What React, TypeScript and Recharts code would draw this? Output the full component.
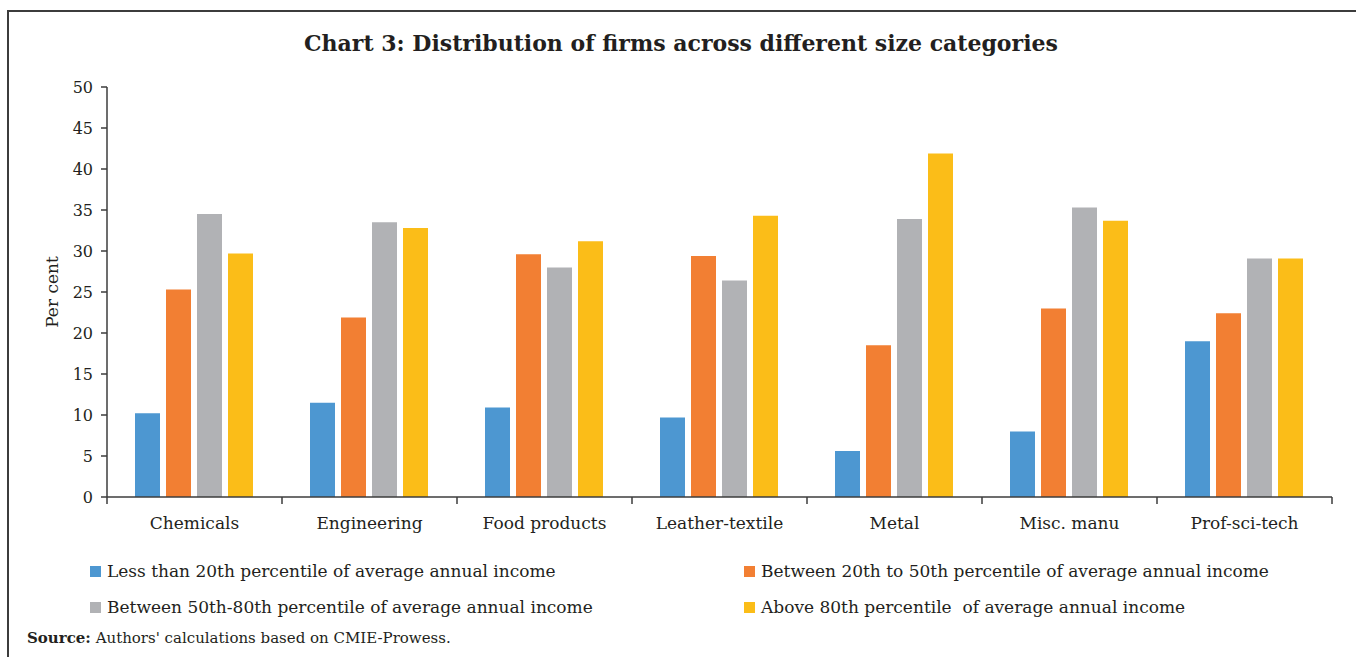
import React from "react"
import { BarChart, Bar, XAxis, YAxis, Legend } from "recharts"

const categories = [
  "Chemicals",
  "Engineering",
  "Food products",
  "Leather-textile",
  "Metal",
  "Misc. manu",
  "Prof-sci-tech",
]

const below20 = [10.2, 11.5, 10.9, 9.7, 5.6, 8.0, 19.0]
const from20to50 = [25.3, 21.9, 29.6, 29.4, 18.5, 23.0, 22.4]
const from50to80 = [34.5, 33.5, 28.0, 26.4, 33.9, 35.3, 29.1]
const above80 = [29.7, 32.8, 31.2, 34.3, 41.9, 33.7, 29.1]

const yTicks = [0, 5, 10, 15, 20, 25, 30, 35, 40, 45, 50]

const series = [
  { key: "below20", name: "Less than 20th percentile of average annual income", color: "#4d97d1", values: below20 },
  { key: "from20to50", name: "Between 20th to 50th percentile of average annual income", color: "#f27f33", values: from20to50 },
  { key: "from50to80", name: "Between 50th-80th percentile of average annual income", color: "#b1b2b5", values: from50to80 },
  { key: "above80", name: "Above 80th percentile  of average annual income", color: "#fbbd18", values: above80 },
]

const rows = categories.map((name, i) => {
  const row: Record<string, string | number> = { name }
  series.forEach((s) => {
    row[s.key] = s.values[i]
  })
  return row
})

const FONT = "'DejaVu Serif', 'Liberation Serif', serif"
const INK = "#231f20"
const AXIS = "#3c3c3c"

const W = 1356
const H = 625
const MARGIN = { top: 87, right: 24, bottom: 0, left: 47 }
const Y_AXIS_W = 60
const PLOT_W = W - MARGIN.left - MARGIN.right - Y_AXIS_W
const STEP = PLOT_W / categories.length

// category label at the band centre, tick marks on the band edges
function CategoryTick(props: any) {
  const { x, y, payload, index, visibleTicksCount } = props
  const left = x - STEP / 2
  const right = x + STEP / 2
  return (
    <g>
      <line x1={left} y1={y} x2={left} y2={y + 7} stroke={AXIS} strokeWidth={1.5} />
      {index === visibleTicksCount - 1 && (
        <line x1={right} y1={y} x2={right} y2={y + 7} stroke={AXIS} strokeWidth={1.5} />
      )}
      <text x={x} y={y + 32} textAnchor="middle" fill={INK} fontSize={17} fontFamily={FONT}>
        {payload.value}
      </text>
    </g>
  )
}

function LegendGrid(props: any) {
  const order = series.map((s) => s.name)
  const items = [...(props.payload || [])].sort(
    (a: any, b: any) => order.indexOf(a.value) - order.indexOf(b.value)
  )
  const cols = [90, 744]
  const tops = [24, 60]
  return (
    <div style={{ position: "relative", width: W, height: 88 }}>
      {items.map((p: any, i: number) => (
        <div
          key={p.value}
          style={{
            position: "absolute",
            left: cols[i % 2],
            top: tops[Math.floor(i / 2)],
            height: 20,
            display: "flex",
            alignItems: "center",
            fontFamily: FONT,
            fontSize: 17,
            color: INK,
            whiteSpace: "pre",
          }}
        >
          <span style={{ width: 11, height: 11, background: p.color, marginRight: 6, display: "inline-block" }} />
          {p.value}
        </div>
      ))}
    </div>
  )
}

export default function App() {
  return (
    <div
      style={{
        position: "absolute",
        left: 0,
        top: 0,
        width: W,
        height: 657,
        background: "#fff",
        overflow: "hidden",
      }}
    >
      <div
        style={{
          position: "absolute",
          left: 7,
          top: 10,
          right: -2,
          bottom: -2,
          borderTop: `2px solid ${AXIS}`,
          borderLeft: `2px solid ${AXIS}`,
        }}
      />
      <div
        style={{
          position: "absolute",
          left: 0,
          top: 28,
          width: 1362,
          textAlign: "center",
          fontFamily: FONT,
          fontWeight: 700,
          fontSize: 22,
          lineHeight: "30px",
          color: INK,
        }}
      >
        Chart 3: Distribution of firms across different size categories
      </div>
      <div style={{ position: "absolute", left: 0, top: 0 }}>
        <BarChart
          width={W}
          height={H}
          data={rows}
          margin={MARGIN}
          barCategoryGap="16%"
          barGap={6}
        >
          <XAxis
            dataKey="name"
            height={40}
            interval={0}
            axisLine={{ stroke: AXIS, strokeWidth: 1.5 }}
            tickLine={false}
            tickSize={0}
            tickMargin={0}
            tick={<CategoryTick />}
          />
          <YAxis
            width={Y_AXIS_W}
            domain={[0, 50]}
            ticks={yTicks}
            interval={0}
            axisLine={{ stroke: AXIS, strokeWidth: 1.5 }}
            tickLine={{ stroke: AXIS, strokeWidth: 1.5 }}
            tickSize={6}
            tickMargin={8}
            tick={{ fill: INK, fontSize: 16, fontFamily: FONT }}
            label={{
              value: "Per cent",
              angle: -90,
              position: "insideLeft",
              offset: 5,
              style: { textAnchor: "middle", fill: INK, fontSize: 17, fontFamily: FONT },
            }}
          />
          <Legend
            verticalAlign="bottom"
            height={88}
            wrapperStyle={{ left: 0, width: W }}
            content={<LegendGrid />}
          />
          {series.map((s) => (
            <Bar
              key={s.key}
              dataKey={s.key}
              name={s.name}
              fill={s.color}
              isAnimationActive={false}
            />
          ))}
        </BarChart>
      </div>
      <div
        style={{
          position: "absolute",
          left: 27,
          top: 628,
          fontFamily: FONT,
          fontSize: 15,
          lineHeight: "20px",
          color: INK,
          whiteSpace: "nowrap",
        }}
      >
        <b>Source:</b> Authors' calculations based on CMIE-Prowess.
      </div>
    </div>
  )
}
